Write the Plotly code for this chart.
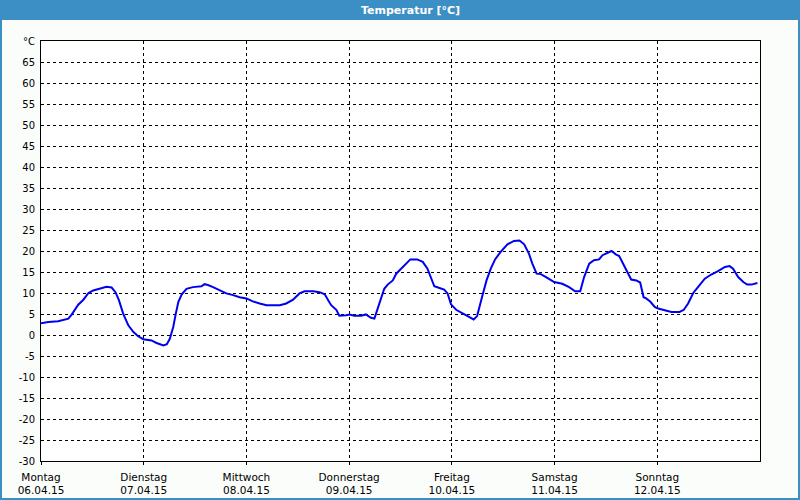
import plotly.graph_objects as go
import pandas as pd

# ---- data ----
start_date = "2015-04-06"
hours = [0.0, 1.7, 4.0, 6.4, 7.2, 8.7, 9.9, 11.1, 12.2, 13.8, 15.3, 16.5, 17.4, 18.2, 19.2,
         20.4, 21.6, 22.7, 23.9, 25.8, 27.0, 28.6, 29.4, 30.1, 30.9, 31.5, 32.1, 32.9, 34.0,
         35.5, 37.5, 38.2, 39.0, 40.2, 41.7, 43.3, 44.9, 46.4, 48.0, 49.5, 51.1, 52.7, 55.8,
         57.3, 58.9, 60.4, 61.6, 63.6, 65.1, 66.3, 67.1, 67.8, 69.0, 69.7, 71.3, 72.1, 73.2,
         74.8, 75.9, 77.1, 77.9, 78.5, 79.5, 80.2, 81.0, 82.2, 83.0, 84.1, 85.3, 86.3, 87.9,
         89.2, 90.3, 91.1, 91.9, 93.1, 94.2, 95.0, 95.8, 97.0, 98.5, 100.1, 101.1, 101.9,
         102.6, 103.1, 104.1, 105.1, 106.1, 107.4, 109.0, 110.5, 111.8, 112.9, 114.0, 114.8,
         115.8, 116.8, 118.3, 119.9, 121.8, 123.4, 124.8, 126.0, 126.9, 128.1, 129.2, 130.4,
         131.2, 132.3, 133.3, 134.3, 135.1, 136.2, 137.2, 137.9, 139.1, 140.0, 140.8, 141.4,
         142.4, 143.4, 144.2, 145.7, 147.3, 149.2, 150.2, 151.2, 152.4, 153.5, 155.1, 156.6,
         158.2, 159.8, 160.9, 161.7, 162.9, 164.1, 165.0, 166.0, 167.0, 167.4]
temps = [2.8, 3.1, 3.3, 3.9, 4.9, 7.2, 8.4, 10.0, 10.6, 11.0, 11.5, 11.3, 10.2, 8.3, 5.1,
         2.3, 0.7, -0.3, -1.0, -1.3, -1.9, -2.5, -2.2, -0.9, 1.9, 5.1, 7.9, 9.7, 11.0,
         11.4, 11.6, 12.1, 11.9, 11.4, 10.6, 9.9, 9.5, 9.0, 8.7, 8.0, 7.5, 7.1, 7.1,
         7.5, 8.4, 9.9, 10.4, 10.4, 10.2, 9.7, 8.3, 7.1, 6.0, 4.6, 4.7, 4.9, 4.6,
         4.6, 4.9, 4.1, 3.9, 5.9, 8.7, 11.0, 12.0, 13.0, 14.6, 15.8, 17.0, 18.0, 18.0,
         17.4, 15.8, 13.8, 11.6, 11.2, 10.8, 9.9, 7.3, 6.0, 5.1, 4.1, 3.7, 4.5,
         7.5, 9.2, 13.0, 15.8, 18.0, 19.8, 21.6, 22.4, 22.5, 21.6, 19.4, 17.0,
         14.6, 14.5, 13.6, 12.6, 12.2, 11.4, 10.4, 10.4, 13.8, 17.0, 17.8, 18.0,
         19.0, 19.5, 20.0, 19.2, 18.8, 16.6, 14.6, 13.2, 13.0, 12.5, 9.0, 8.7,
         7.9, 6.7, 6.3, 5.9, 5.5, 5.5, 6.0, 7.5, 10.0, 11.4, 13.4, 14.4,
         15.2, 16.2, 16.4, 15.8, 13.8, 12.6, 12.0, 12.0, 12.4, 12.4]
day_names = ["Montag", "Dienstag", "Mittwoch", "Donnerstag", "Freitag", "Samstag", "Sonntag"]
day_dates = ["06.04.15", "07.04.15", "08.04.15", "09.04.15", "10.04.15", "11.04.15", "12.04.15"]
y_tickvals = list(range(-30, 75, 5))
y_ticktext = [str(v) for v in range(-30, 70, 5)] + ["°C"]
title_text = "Temperatur [°C]"

# ---- build ----
t0 = pd.Timestamp(start_date)
times = [t0 + pd.Timedelta(hours=h) for h in hours]
day_ticks = [t0 + pd.Timedelta(days=i) for i in range(7)]
day_text = [f"{n}<br>{d}" for n, d in zip(day_names, day_dates)]

W, H = 800, 500
ml, mr, mt, mb = 41, 40, 41, 39
pw, ph = W - ml - mr, H - mt - mb

def px_x(x):
    return (x - ml) / pw

def px_y(y):
    return (H - mb - y) / ph

bar_color = "#3b8fc4"

fig = go.Figure()
fig.add_trace(go.Scatter(x=times, y=temps, mode="lines",
                         line=dict(color="#0000f0", width=2), hoverinfo="skip"))

font_main = "DejaVu Sans"
fig.update_layout(
    width=W, height=H,
    margin=dict(l=ml, r=mr, t=mt, b=mb, autoexpand=False),
    paper_bgcolor="#fbfdfb",
    plot_bgcolor="#ffffff",
    showlegend=False,
    font=dict(family=font_main, size=10, color="#000000"),
    xaxis=dict(
        type="date",
        range=[t0, t0 + pd.Timedelta(days=7)],
        tickvals=day_ticks, ticktext=day_text,
        showgrid=True, gridcolor="#000000", gridwidth=1, griddash="3px,3px",
        showline=True, linecolor="#000000", linewidth=1, mirror=True,
        ticks="outside", ticklen=3, tickcolor="#000000",
        ticklabelstandoff=3, automargin=False,
        tickfont=dict(family=font_main, size=10.5, color="#000000"),
        zeroline=False, fixedrange=True,
    ),
    yaxis=dict(
        range=[-30, 70],
        tickvals=y_tickvals, ticktext=y_ticktext,
        showgrid=True, gridcolor="#000000", gridwidth=1, griddash="3px,3px",
        showline=True, linecolor="#000000", linewidth=1, mirror=True,
        ticks="", ticklabelstandoff=3, automargin=False,
        tickfont=dict(family=font_main, size=10, color="#000000"),
        zeroline=False, fixedrange=True,
    ),
    shapes=[
        dict(type="rect", xref="paper", yref="paper",
             x0=px_x(0), x1=px_x(W), y0=px_y(20), y1=px_y(0),
             fillcolor=bar_color, line=dict(width=0), layer="above"),
        dict(type="line", xref="paper", yref="paper",
             x0=px_x(1), x1=px_x(1), y0=px_y(H), y1=px_y(20),
             line=dict(color=bar_color, width=2)),
        dict(type="line", xref="paper", yref="paper",
             x0=px_x(W - 1), x1=px_x(W - 1), y0=px_y(H), y1=px_y(20),
             line=dict(color=bar_color, width=2)),
        dict(type="line", xref="paper", yref="paper",
             x0=px_x(0), x1=px_x(W), y0=px_y(H - 1), y1=px_y(H - 1),
             line=dict(color=bar_color, width=2)),
    ],
    annotations=[
        dict(text=f"<b>{title_text}</b>", xref="paper", yref="paper",
             x=px_x(410), y=px_y(10), xanchor="center", yanchor="middle",
             showarrow=False, font=dict(family=font_main, size=11, color="#ffffff")),
    ],
)

fig.write_html("out.html")
